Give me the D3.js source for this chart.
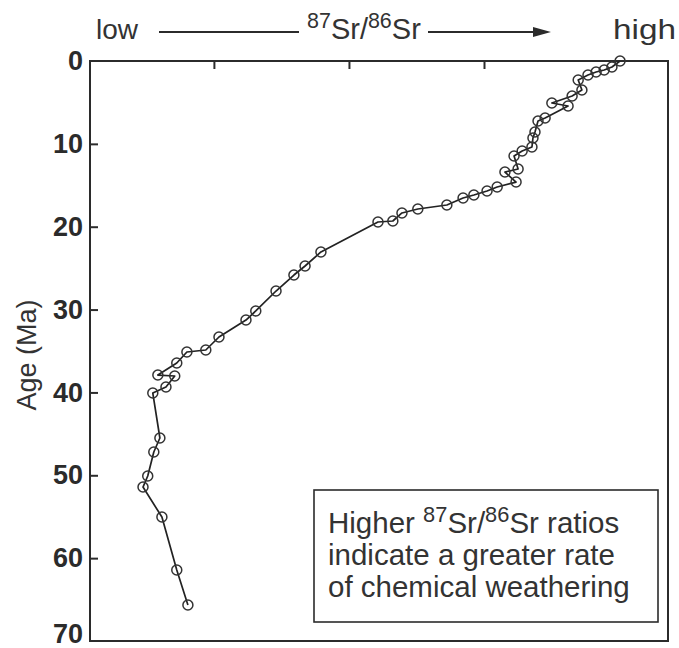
<!DOCTYPE html>
<html>
<head>
<meta charset="utf-8">
<script src="https://cdn.jsdelivr.net/npm/d3@7"></script>
<style>
  html, body { margin: 0; padding: 0; background: #fff; }
  svg { display: block; font-family: "Liberation Sans", Arial, sans-serif; }
</style>
</head>
<body>
<svg id="chart" width="679" height="648"></svg>
<script>
// Seawater 87Sr/86Sr through the Cenozoic (age in Ma, ratio)
const ages = [
  0.0, 0.72, 1.09, 1.33, 1.69, 2.29, 3.50, 4.22, 5.07, 5.43,
  6.88, 7.24, 8.57, 9.29, 10.38, 10.86, 11.47, 13.03, 13.40, 14.61,
  15.21, 15.69, 16.17, 16.53, 17.38, 17.86, 18.34, 19.31, 19.43, 23.05,
  24.74, 25.83, 27.76, 30.17, 31.26, 33.31, 34.88, 35.12, 36.45, 37.90,
  38.02, 39.34, 40.07, 45.50, 47.19, 50.09, 51.42, 55.04, 61.43, 65.65
];
const srRatios = [
  0.709003, 0.708979, 0.708956, 0.708932, 0.708908, 0.708879, 0.708890, 0.708861, 0.708801, 0.708849,
  0.708781, 0.708760, 0.708751, 0.708745, 0.708742, 0.708713, 0.708689, 0.708701, 0.708662, 0.708695,
  0.708639, 0.708609, 0.708570, 0.708538, 0.708490, 0.708404, 0.708357, 0.708330, 0.708286, 0.708117,
  0.708070, 0.708037, 0.707984, 0.707924, 0.707895, 0.707815, 0.707776, 0.707720, 0.707690, 0.707634,
  0.707684, 0.707658, 0.707619, 0.707640, 0.707622, 0.707604, 0.707590, 0.707646, 0.707690, 0.707723
];
const ageTicks = [0, 10, 20, 30, 40, 50, 60, 70];
const ratioTicks = [0.7078, 0.7082, 0.7086];
const legendLines = [
  ["Higher ", {sup: "87"}, "Sr/", {sup: "86"}, "Sr ratios"],
  ["indicate a greater rate"],
  ["of chemical weathering"]
];

const ink = "#2b2b2b";
const svg = d3.select("#chart");

const x = d3.scaleLinear().domain([0.707433, 0.709145]).range([90, 668]);
const y = d3.scaleLinear().domain([0, 70]).range([61, 641]);

const data = ages.map((a, i) => ({age: a, sr: srRatios[i]}));

// Writes plain runs and superscript runs into a <text>
function writeRich(t, parts, size, supScale) {
  let shift = 0;
  parts.forEach(p => {
    if (typeof p === "string") {
      t.append("tspan").attr("font-size", size).attr("dy", -shift).text(p);
      shift = 0;
    } else {
      const up = size * 0.38;
      t.append("tspan").attr("font-size", size * supScale).attr("dy", -up - shift).text(p.sup);
      shift = -up;
    }
  });
}

// Frame
svg.append("rect")
  .attr("x", x.range()[0]).attr("y", y.range()[0])
  .attr("width", x.range()[1] - x.range()[0])
  .attr("height", y.range()[1] - y.range()[0])
  .attr("fill", "none").attr("stroke", ink).attr("stroke-width", 2);

// Left axis: inward ticks, bold labels
const yAxis = d3.axisLeft(y).tickValues(ageTicks).tickSize(0).tickPadding(7);
const yg = svg.append("g").attr("transform", `translate(${x.range()[0]},0)`).call(yAxis);
yg.select(".domain").remove();
yg.selectAll("text")
  .attr("font-size", 27).attr("font-weight", "bold")
  .attr("font-family", "Liberation Sans, Arial, sans-serif")
  .attr("fill", ink)
  .attr("y", d => Math.min(0, 634 - y(d)));
yg.selectAll(".tick").filter(d => d > 0 && d < 70).append("line")
  .attr("x1", 0).attr("x2", 8).attr("stroke", ink).attr("stroke-width", 2);

// Top axis: inward ticks, no labels
const xAxis = d3.axisTop(x).tickValues(ratioTicks).tickSize(0).tickFormat("");
const xg = svg.append("g").attr("transform", `translate(0,${y.range()[0]})`).call(xAxis);
xg.select(".domain").remove();
xg.selectAll(".tick").append("line")
  .attr("y1", 0).attr("y2", 8).attr("stroke", ink).attr("stroke-width", 2);

// Y title
svg.append("text")
  .attr("transform", `translate(36,355) rotate(-90)`)
  .attr("text-anchor", "middle")
  .attr("font-size", 27).attr("fill", "#333")
  .text("Age (Ma)");

// Header: low —— 87Sr/86Sr ——> high
const hdr = svg.append("g").attr("font-size", 28).attr("fill", "#333");
hdr.append("text").attr("x", 96).attr("y", 39).text("low");
hdr.append("text").attr("x", 613).attr("y", 39)
  .attr("textLength", 63).attr("lengthAdjust", "spacingAndGlyphs").text("high");
const sr = hdr.append("text").attr("x", 307).attr("y", 39);
writeRich(sr, [{sup: "87"}, "Sr/", {sup: "86"}, "Sr"], 29, 0.74);
hdr.append("line").attr("x1", 159).attr("x2", 299).attr("y1", 32).attr("y2", 32)
  .attr("stroke", ink).attr("stroke-width", 2);
hdr.append("line").attr("x1", 428).attr("x2", 536).attr("y1", 32).attr("y2", 32)
  .attr("stroke", ink).attr("stroke-width", 2);
hdr.append("path").attr("d", "M533,27 L551,32 L533,37 Z").attr("fill", ink);

// Series line and markers
const line = d3.line().x(d => x(d.sr)).y(d => y(d.age));
svg.append("path").datum(data)
  .attr("d", line).attr("fill", "none")
  .attr("stroke", "#222").attr("stroke-width", 1.7).attr("stroke-linejoin", "round");
svg.append("g").selectAll("circle").data(data).join("circle")
  .attr("cx", d => x(d.sr)).attr("cy", d => y(d.age)).attr("r", 5)
  .attr("fill", "none").attr("stroke", "#333").attr("stroke-width", 1.5);

// Note box
const note = svg.append("g");
note.append("rect").attr("x", 314).attr("y", 490).attr("width", 344).attr("height", 132)
  .attr("fill", "#fff").attr("stroke", ink).attr("stroke-width", 1.6);
legendLines.forEach((parts, i) => {
  const t = note.append("text").attr("x", 328).attr("y", 533 + i * 32).attr("fill", "#333");
  writeRich(t, parts, 29.5, 0.74);
});
</script>
</body>
</html>
